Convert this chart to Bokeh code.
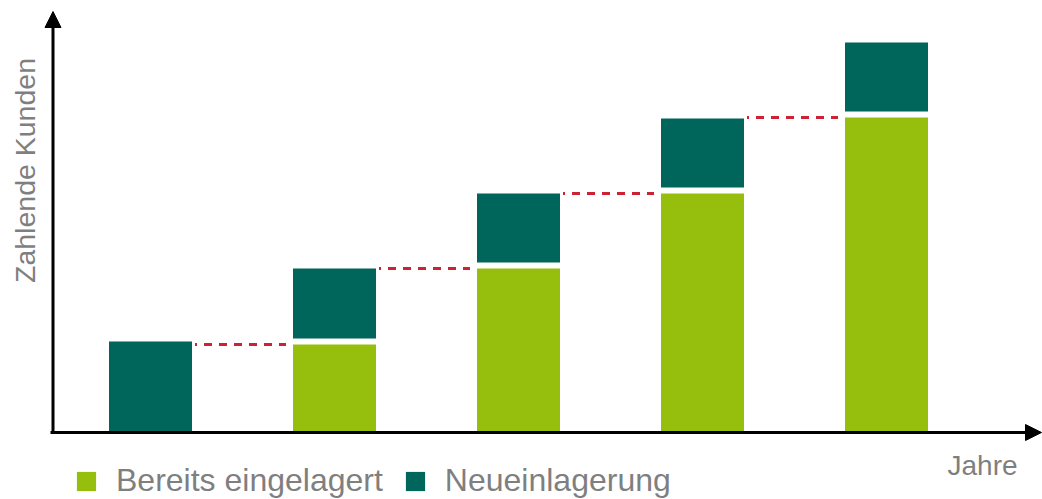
from bokeh.plotting import figure
from bokeh.models import Range1d, Arrow, NormalHead, Legend, LegendItem, Label
from bokeh.embed import file_html
from bokeh.resources import INLINE

# ---- data ----
jahre = ["Jahr 1", "Jahr 2", "Jahr 3", "Jahr 4", "Jahr 5"]
bereits_eingelagert = [0, 88, 164, 239, 315]
neueinlagerung = [91, 76, 75, 75, 75]

# ---- styles ----
GREEN = "#96bf0d"
TEAL = "#00655a"
RED = "#cc2233"
GRAY = "#7f7f7f"
FONT = "Liberation Sans"
W, H = 1042, 499
STEP = 184.0      # px per category
X0 = 150.0        # px of first bar centre
BAR_W = 83 / STEP
GAP = 6           # white gap between stacked parts (data units)

idx = list(range(len(jahre)))
totals = [b + n for b, n in zip(bereits_eingelagert, neueinlagerung)]
teal_bottom = [b + GAP if b > 0 else 0 for b in bereits_eingelagert]

def px_x(px):
    return (px - X0) / STEP

p = figure(width=W, height=H, output_backend="svg", toolbar_location=None,
           x_axis_type=None, y_axis_type=None,
           x_range=Range1d(px_x(0), px_x(W)), y_range=Range1d(-67, 432),
           min_border=0)
p.grid.visible = False
p.outline_line_color = None

g = p.vbar(x=idx, width=BAR_W, bottom=0, top=bereits_eingelagert,
           fill_color=GREEN, line_color=None)
t = p.vbar(x=idx, width=BAR_W, bottom=teal_bottom, top=totals,
           fill_color=TEAL, line_color=None)

# dashed carry-over lines
seg_x0 = [i + BAR_W / 2 + 3 / STEP for i in idx[:-1]]
seg_x1 = [i + 1 - BAR_W / 2 - 7 / STEP for i in idx[:-1]]
seg_y = bereits_eingelagert[1:]
p.segment(x0=seg_x0, y0=seg_y, x1=seg_x1, y1=seg_y, line_color=RED,
          line_width=3, line_dash="8 7", line_dash_offset=6)

# axes with arrow heads
p.add_layout(Arrow(end=NormalHead(size=16, fill_color="black", line_color="black"),
                   x_start=px_x(50), y_start=0, x_end=px_x(1041), y_end=0,
                   line_width=3, line_color="black"))
p.add_layout(Arrow(end=NormalHead(size=16, fill_color="black", line_color="black"),
                   x_start=px_x(52.5), y_start=-1.5, x_end=px_x(52.5), y_end=421,
                   line_width=3, line_color="black"))

p.add_layout(Label(x=px_x(24), y=262, text="Zahlende Kunden", angle=90,
                   angle_units="deg", text_align="center", text_baseline="middle",
                   text_font_size="28.5px", text_color=GRAY, text_font=FONT))
p.add_layout(Label(x=px_x(947), y=-33, text="Jahre", text_align="left",
                   text_baseline="alphabetic", text_font_size="28px",
                   text_color=GRAY, text_font=FONT))

legend = Legend(items=[LegendItem(label="Bereits eingelagert", renderers=[g]),
                       LegendItem(label="Neueinlagerung", renderers=[t])],
                orientation="horizontal", location=(74, 0), padding=0, margin=0,
                spacing=20, label_standoff=18, glyph_width=24, glyph_height=24,
                label_height=24, label_text_font_size="32px",
                label_text_color=GRAY, label_text_font=FONT,
                border_line_color=None, background_fill_alpha=0)
p.add_layout(legend)

open("out.html", "w").write(file_html(p, INLINE))
